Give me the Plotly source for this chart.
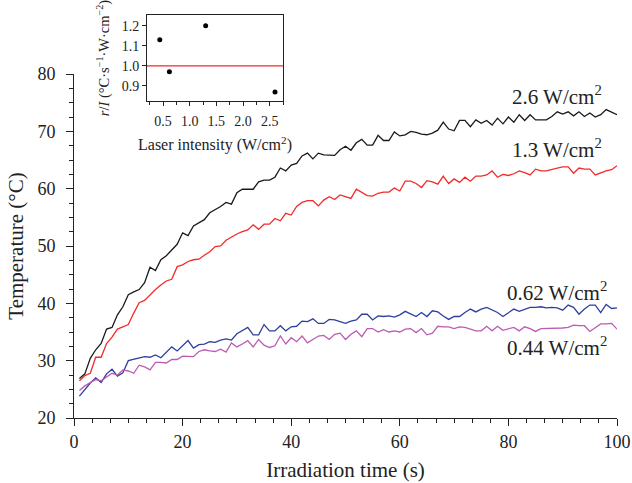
import plotly.graph_objects as go

# ---------------- data ----------------
time_s = list(range(1, 101))

temp_2p6 = [26.9, 27.7, 30.4, 31.9, 33.0, 35.5, 35.8, 38.0, 39.4, 41.5,
            42.0, 42.4, 43.6, 46.3, 45.7, 47.6, 48.3, 49.3, 50.3, 52.3,
            51.8, 53.5, 54.1, 54.6, 55.8, 56.3, 56.9, 57.6, 57.3, 59.3,
            59.9, 59.9, 59.9, 61.2, 61.5, 61.5, 62.0, 63.6, 63.1, 64.1,
            64.4, 65.7, 66.2, 65.2, 66.2, 65.9, 65.8, 65.8, 66.8, 67.4,
            66.7, 68.0, 68.6, 67.6, 67.6, 69.3, 68.4, 68.4, 69.9, 69.2,
            69.4, 70.0, 69.8, 69.5, 69.4, 69.7, 70.2, 71.6, 70.4, 70.1,
            71.9, 71.9, 70.8, 72.0, 71.4, 71.9, 71.1, 72.3, 71.3, 72.5,
            71.6, 72.9, 71.9, 72.9, 72.0, 72.0, 72.0, 72.6, 73.4, 73.0,
            73.4, 72.7, 73.4, 72.6, 73.2, 72.5, 72.9, 73.8, 73.4, 72.9]

temp_1p3 = [26.5, 27.4, 27.8, 30.6, 30.6, 33.0, 34.1, 35.5, 35.9, 36.3,
            38.3, 40.1, 40.5, 41.5, 42.4, 43.2, 43.9, 44.2, 46.4, 46.7,
            47.3, 47.6, 47.7, 48.4, 49.0, 49.9, 50.0, 51.0, 51.6, 52.1,
            52.5, 52.8, 53.7, 52.9, 53.8, 53.8, 54.8, 54.4, 55.7, 55.4,
            56.9, 57.6, 57.9, 57.9, 57.0, 58.0, 58.6, 58.1, 58.9, 58.6,
            58.3, 59.9, 59.3, 58.8, 58.7, 59.2, 59.4, 59.4, 60.1, 59.6,
            61.3, 61.3, 60.9, 60.2, 61.4, 61.2, 60.8, 62.2, 60.9, 61.7,
            61.1, 62.0, 61.3, 62.2, 62.2, 62.4, 63.1, 62.0, 62.5, 62.3,
            62.6, 63.1, 62.8, 62.4, 63.4, 63.1, 63.1, 63.4, 63.6, 63.8,
            63.8, 62.7, 63.6, 63.4, 63.4, 62.4, 62.8, 63.1, 63.3, 64.0]

temp_0p62 = [23.8, 25.0, 26.1, 27.0, 26.2, 27.7, 28.5, 27.3, 27.9, 30.0,
             30.2, 30.5, 30.7, 30.6, 31.0, 30.5, 31.5, 32.4, 31.7, 32.6,
             33.5, 32.2, 32.8, 32.9, 33.3, 33.2, 33.6, 33.8, 33.6, 34.7,
             35.2, 35.8, 34.5, 34.5, 36.3, 35.2, 35.2, 36.1, 35.2, 35.9,
             36.0, 36.9, 36.8, 37.3, 36.5, 36.5, 37.2, 37.1, 36.8, 36.5,
             36.9, 37.1, 38.1, 38.1, 37.1, 37.8, 37.7, 37.8, 37.6, 38.0,
             38.6, 38.1, 37.7, 38.4, 37.7, 38.7, 38.5, 37.8, 37.2, 37.7,
             37.7, 38.4, 39.0, 38.5, 39.0, 39.3, 38.8, 38.4, 37.7, 38.4,
             39.0, 38.6, 39.0, 39.3, 39.3, 39.4, 39.2, 39.3, 39.2, 38.8,
             39.7, 39.3, 38.1, 39.0, 39.7, 39.7, 38.4, 39.8, 39.1, 39.2]

temp_0p44 = [24.8, 25.6, 26.2, 26.7, 26.5, 27.1, 27.8, 27.5, 28.4, 28.2,
             27.8, 29.2, 28.9, 28.4, 29.7, 29.7, 29.6, 30.2, 30.2, 30.8,
             30.8, 30.7, 31.6, 31.9, 31.7, 31.6, 32.0, 31.5, 33.1, 32.4,
             32.9, 33.5, 32.4, 33.7, 32.7, 32.3, 32.6, 34.3, 32.9, 34.0,
             33.3, 34.3, 33.1, 33.7, 34.3, 34.4, 33.7, 34.6, 34.8, 33.7,
             34.6, 35.2, 34.2, 35.6, 35.6, 35.0, 35.4, 35.0, 35.2, 35.0,
             35.5, 35.6, 34.9, 35.6, 34.5, 34.8, 36.0, 35.9, 35.9, 35.6,
             35.9, 35.8, 35.5, 35.2, 35.2, 36.0, 35.2, 36.0, 35.3, 35.6,
             35.8, 35.2, 35.9, 35.6, 35.1, 35.6, 35.6, 35.7, 35.7, 35.7,
             35.8, 36.2, 36.1, 36.1, 35.1, 35.8, 36.4, 36.4, 36.5, 35.5]

series_labels = ["2.6 W/cm<sup>2</sup>", "1.3 W/cm<sup>2</sup>",
                 "0.62 W/cm<sup>2</sup>", "0.44 W/cm<sup>2</sup>"]
series_colors = ["#1a1a1a", "#f42a2a", "#2f3f9e", "#bb5bb4"]
label_pos_x = [89, 89, 89, 89]
label_pos_y = [76.3, 67.0, 42.0, 32.4]

# inset data
laser_intensity = [0.44, 0.62, 1.3, 2.6]
ratio_rI = [1.13, 0.97, 1.20, 0.87]
ref_ratio = 1.0

FONT = "Liberation Serif"

fig = go.Figure()
for ys, name, col in zip([temp_2p6, temp_1p3, temp_0p62, temp_0p44],
                         series_labels, series_colors):
    fig.add_trace(go.Scatter(x=time_s, y=ys, mode="lines", name=name,
                             line=dict(color=col, width=1.3),
                             xaxis="x", yaxis="y", showlegend=False))

fig.add_trace(go.Scatter(x=laser_intensity, y=ratio_rI, mode="markers",
                         marker=dict(color="black", size=5),
                         xaxis="x2", yaxis="y2", showlegend=False))

for txt, lx, ly in zip(series_labels, label_pos_x, label_pos_y):
    fig.add_annotation(x=lx, y=ly, xref="x", yref="y", text=txt,
                       showarrow=False, xanchor="center", yanchor="middle",
                       font=dict(family=FONT, size=21, color="#222"))

fig.add_shape(type="line", xref="x2 domain", yref="y2", x0=0, x1=1,
              y0=ref_ratio, y1=ref_ratio, line=dict(color="#f42a2a", width=1.3))

main_h = 483 - 10 - 65
ydom_top = 344 / main_h

fig.update_layout(
    width=632, height=483,
    margin=dict(l=74, r=15, t=10, b=65, autoexpand=False),
    paper_bgcolor="white", plot_bgcolor="white",
    font=dict(family=FONT, color="#222"),
    xaxis=dict(domain=[0, 1], range=[0, 100], dtick=20, tick0=0,
               showline=True, linecolor="#222", linewidth=1,
               ticks="outside", ticklen=7, tickwidth=1, tickcolor="#222",
               minor=dict(dtick=20 / 6, ticks="outside", ticklen=4,
                          tickcolor="#222", showgrid=False),
               showgrid=False, zeroline=False, automargin=False,
               tickfont=dict(size=18),
               title=dict(text="Irradiation time (s)", font=dict(size=21),
                          standoff=11),
               anchor="y"),
    yaxis=dict(domain=[0, ydom_top], range=[20, 80], dtick=10, tick0=0,
               showline=True, linecolor="#222", linewidth=1,
               ticks="outside", ticklen=7, tickwidth=1, tickcolor="#222",
               minor=dict(dtick=2.5, ticks="outside", ticklen=4,
                          tickcolor="#222", showgrid=False),
               showgrid=False, zeroline=False, automargin=False,
               tickfont=dict(size=18), ticklabelstandoff=7,
               title=dict(text="Temperature (°C)", font=dict(size=21),
                          standoff=8),
               anchor="x"),
    xaxis2=dict(domain=[(147 - 74) / 543, (283 - 74) / 543],
                range=[0.2, 2.75], dtick=0.5, tick0=0, tickformat=".1f",
                showline=True, mirror=True, linecolor="#222", linewidth=1,
                ticks="outside", ticklen=4, tickcolor="#222",
                minor=dict(dtick=0.25, ticks="outside", ticklen=3,
                           tickcolor="#222", showgrid=False),
                showgrid=False, zeroline=False, automargin=False,
                tickfont=dict(size=14), ticklabelstandoff=3,
                title=dict(text="Laser intensity (W/cm<sup>2</sup>)",
                           font=dict(size=16), standoff=11),
                anchor="y2"),
    yaxis2=dict(domain=[(418 - 101) / main_h, (418 - 15) / main_h],
                range=[0.825, 1.253], tickvals=[0.9, 1.0, 1.1, 1.2],
                tickformat=".1f",
                showline=True, mirror=True, linecolor="#222", linewidth=1,
                ticks="outside", ticklen=4, tickcolor="#222",
                showgrid=False, zeroline=False, automargin=False,
                tickfont=dict(size=14),
                title=dict(text="<i>r</i>/<i>I</i> (°C·s<sup>−1</sup>·W·cm<sup>−2</sup>)",
                           font=dict(size=14.5), standoff=8),
                anchor="x2"),
)

fig.write_html("out.html", config={"displayModeBar": False},
               post_script="document.body.style.margin='0';"
                           "document.body.style.padding='0';")
